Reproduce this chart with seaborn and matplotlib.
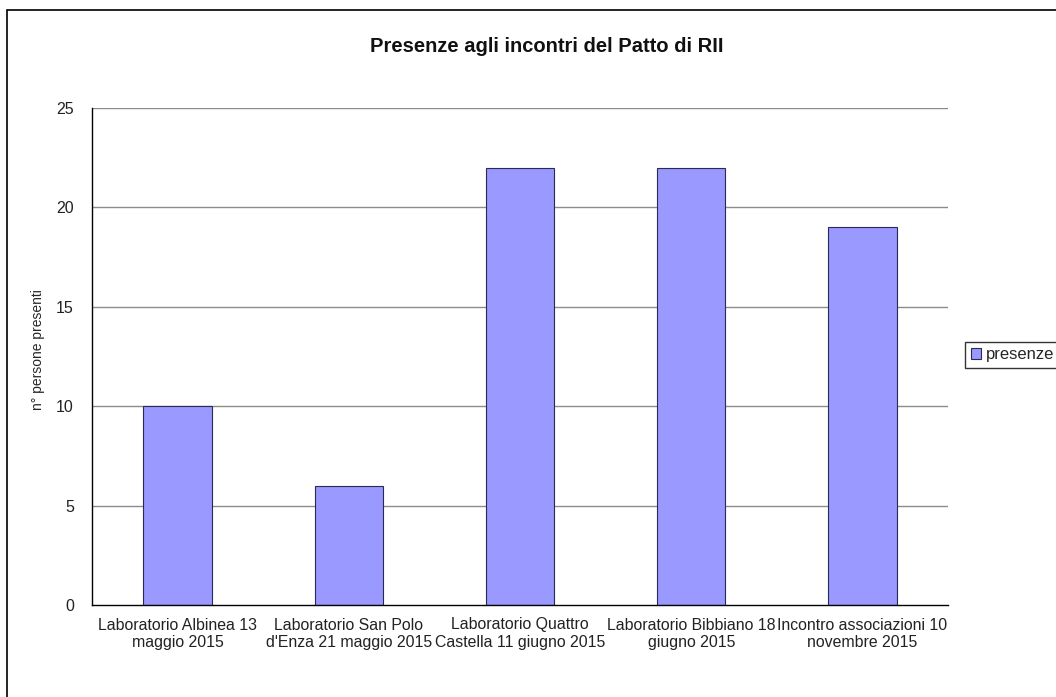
import matplotlib
matplotlib.use("Agg")
import matplotlib.pyplot as plt
import seaborn as sns
import pandas as pd
from matplotlib.patches import Rectangle

categories = ["Laboratorio Albinea 13\nmaggio 2015",
              "Laboratorio San Polo\nd'Enza 21 maggio 2015",
              "Laboratorio Quattro\nCastella 11 giugno 2015",
              "Laboratorio Bibbiano 18\ngiugno 2015",
              "Incontro associazioni 10\nnovembre 2015"]
presenze = [10, 6, 22, 22, 19]
yticks = [0, 5, 10, 15, 20, 25]

sns.set_style("white")
plt.rcParams['font.family'] = ['Liberation Sans', 'DejaVu Sans']

df = pd.DataFrame({"cat": categories, "presenze": presenze})

fig = plt.figure(figsize=(10.56, 6.97), dpi=100)
ax = fig.add_axes([92/1056, 1-605/697, (948-92)/1056, (605-108)/697])

ax.set_axisbelow(True)
for y in yticks[1:]:
    ax.axhline(y, color="#8c8c8c", lw=1, zorder=0)

sns.barplot(data=df, x="cat", y="presenze", color="#9999FF", width=0.4,
            edgecolor="#2a2a55", linewidth=0.8, saturation=1, ax=ax,
            label="presenze")

ax.set_ylim(0, 25)
ax.set_xlim(-0.5, len(categories) - 0.5)
ax.set_yticks(yticks)
ax.set_yticklabels([str(v) for v in yticks], fontsize=11.5)
ax.set_xticks(range(len(categories)))
ax.set_xticklabels(categories, fontsize=11.4, linespacing=1.2)
ax.set_xticks([i - 0.5 for i in range(len(categories) + 1)], minor=True)
ax.tick_params(axis="x", which="major", length=0, pad=9, colors="#222222")
ax.tick_params(axis="x", which="minor", length=6, width=1, direction="out", color="black")
ax.tick_params(axis="y", length=5, width=1, direction="out", pad=8, colors="#222222")
ax.tick_params(axis="y", color="black")
ax.set_xlabel("")
ax.set_ylabel("n° persone presenti", fontsize=10)
ax.yaxis.set_label_coords(45/1056, 1-350/697, transform=fig.transFigure)

for s in ["top", "right"]:
    ax.spines[s].set_visible(False)
for s in ["left", "bottom"]:
    ax.spines[s].set_color("black")
    ax.spines[s].set_linewidth(1)

fig.text(547/1056, 1-47/697, "Presenze agli incontri del Patto di RII", ha="center",
         va="center", fontsize=14.5, fontweight="bold", color="#111111")

leg = ax.legend(loc="center left", bbox_to_anchor=(965/1056, 1-355/697),
                bbox_transform=fig.transFigure, frameon=True, fancybox=False,
                fontsize=12, handlelength=0.6, handleheight=0.6, handletextpad=0.3,
                borderpad=0.35, borderaxespad=0)
leg.get_frame().set_edgecolor("black")
leg.get_frame().set_linewidth(1)

fig.patches.append(Rectangle((7/1056, -0.1), 1.2, 1 - 10/697 + 0.1,
                             transform=fig.transFigure, fill=False,
                             edgecolor="black", lw=1.2))

fig.savefig("out.png", dpi=100)
